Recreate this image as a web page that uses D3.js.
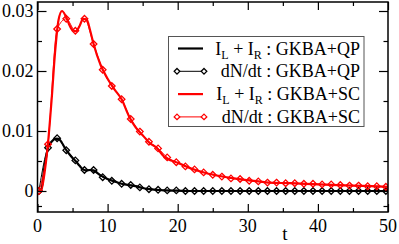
<!DOCTYPE html>
<html lang="en">
<head>
  <meta charset="UTF-8">
  <title>current vs dN/dt</title>
  <script src="https://cdn.jsdelivr.net/npm/d3@7"></script>
  <style>
    body { margin: 0; background: #fff; }
    text { font-family: "Liberation Serif", "DejaVu Serif", serif; }
  </style>
</head>
<body>
  <script>
    // line series (I_L + I_R)
    const tLine = [0, 0.5, 1, 1.5, 2, 2.5, 3, 3.5, 4, 4.5, 5, 5.5, 6, 6.5, 7, 7.5, 8, 9, 10, 11, 12, 13, 14, 15, 16, 17, 18, 20, 22, 24, 26, 28, 30, 33, 36, 40, 45, 50];
    const qpLine = [0, 0, 0.004, 0.0072, 0.0082, 0.0087, 0.0087, 0.0080, 0.0070, 0.0062, 0.0055, 0.0049, 0.0042, 0.0036, 0.0034, 0.0035, 0.0034, 0.0026, 0.0020, 0.0016, 0.0012, 0.0010, 0.0008, 0.0005, 0.0003, 0.0002, 0.0001, 0.00005, 0, 0, 0, 0, 0, 0, 0, 0, 0, 0];
    const scLine = [0, 0, 0.003, 0.008, 0.015, 0.023, 0.0285, 0.0300, 0.0292, 0.0278, 0.0268, 0.0266, 0.0275, 0.0287, 0.0286, 0.0268, 0.0245, 0.0210, 0.0187, 0.0169, 0.0153, 0.0126, 0.0106, 0.0093, 0.0080, 0.0072, 0.0058, 0.0047, 0.0037, 0.0030, 0.0025, 0.0021, 0.0018, 0.0014, 0.0013, 0.0011, 0.0009, 0.0007];

    // marker series (dN/dt)
    const tMark = [0.2, 1.5, 2.8, 4.1, 5.4, 6.7, 8.0, 9.3, 10.6, 12.0, 13.3, 14.6, 15.9, 17.2, 18.5, 19.8, 21.1, 22.4, 23.7, 25.0, 26.3, 27.6, 28.9, 30.2, 31.5, 32.8, 34.1, 35.4, 36.7, 38.0, 39.3, 40.6, 41.9, 43.2, 44.5, 45.8, 47.1, 48.4, 49.7];
    const qpMark = [0, 0.0072, 0.0088, 0.0068, 0.0051, 0.0035, 0.0035, 0.0023, 0.0017, 0.0012, 0.0010, 0.0006, 0.0003, 0.0002, 0.0001, 0.0001, 0, 0, 0, 0, 0, 0, 0, 0, 0, 0, 0, 0, 0, 0, 0, 0, 0, 0, 0, 0, 0, 0, 0];
    const scMark = [0, 0.0078, 0.0270, 0.0287, 0.0267, 0.0287, 0.0245, 0.0202, 0.0175, 0.0153, 0.0120, 0.0099, 0.0082, 0.0071, 0.0056, 0.0048, 0.0041, 0.0036, 0.0031, 0.0027, 0.0024, 0.0021, 0.0020, 0.0017, 0.0016, 0.0014, 0.0014, 0.0013, 0.0013, 0.0012, 0.0012, 0.0011, 0.0011, 0.0010, 0.0009, 0.0009, 0.0008, 0.0008, 0.0007];

    const xTicks = [0, 10, 20, 30, 40, 50];
    const yTicks = [0, 0.01, 0.02, 0.03];
    const legendLabels = [
      ["I", "L", " + I", "R", " : GKBA+QP"],
      ["dN/dt : GKBA+QP"],
      ["I", "L", " + I", "R", " : GKBA+SC"],
      ["dN/dt : GKBA+SC"]
    ];

    const w = 399, h = 244;
    const pLeft = 37.5, pRight = 388, pTop = 2, pBottom = 212;

    const x = d3.scaleLinear().domain([0, 50]).range([pLeft, pRight]);
    const y = d3.scaleLinear().domain([-0.0035, 0.0315]).range([pBottom, pTop]);

    const svg = d3.select("body").append("svg")
      .attr("width", w).attr("height", h);

    // clip for curves
    svg.append("clipPath").attr("id", "clip")
      .append("rect").attr("x", pLeft).attr("y", pTop)
      .attr("width", pRight - pLeft).attr("height", pBottom - pTop);

    const plot = svg.append("g").attr("clip-path", "url(#clip)");

    const line = d3.line().curve(d3.curveMonotoneX);
    const diamond = s => `M0,${-s}L${s},0L0,${s}L${-s},0Z`;

    function drawLine(ts, vs, color, width) {
      plot.append("path")
        .attr("d", line(ts.map((t, i) => [x(t), y(vs[i])])))
        .attr("fill", "none").attr("stroke", color)
        .attr("stroke-width", width).attr("stroke-linejoin", "round");
    }
    function drawMarks(ts, vs, color) {
      drawLine(ts, vs, color, 1);
      plot.selectAll(null).data(ts).enter().append("path")
        .attr("transform", (t, i) => `translate(${x(t)},${y(vs[i])})`)
        .attr("d", diamond(3.3))
        .attr("fill", "none").attr("stroke", color).attr("stroke-width", 1.3);
    }

    drawLine(tLine, qpLine, "#000", 2.2);
    drawMarks(tMark, qpMark, "#000");
    drawLine(tLine, scLine, "#ff0000", 2.2);
    drawMarks(tMark, scMark, "#ff0000");

    // frame
    svg.append("rect").attr("x", pLeft).attr("y", pTop)
      .attr("width", pRight - pLeft).attr("height", pBottom - pTop)
      .attr("fill", "none").attr("stroke", "#000").attr("stroke-width", 1.5);

    // inward ticks on all four sides
    const xMinor = [5, 15, 25, 35, 45];
    const yMinor = [-0.0025, 0.005, 0.015, 0.025];
    const axes = [
      [d3.axisTop(x).tickValues(xTicks).tickSize(8), `translate(0,${pBottom})`],
      [d3.axisTop(x).tickValues(xMinor).tickSize(4), `translate(0,${pBottom})`],
      [d3.axisBottom(x).tickValues(xTicks).tickSize(8), `translate(0,${pTop})`],
      [d3.axisBottom(x).tickValues(xMinor).tickSize(4), `translate(0,${pTop})`],
      [d3.axisRight(y).tickValues(yTicks).tickSize(9), `translate(${pLeft},0)`],
      [d3.axisRight(y).tickValues(yMinor).tickSize(4.5), `translate(${pLeft},0)`],
      [d3.axisLeft(y).tickValues(yTicks).tickSize(9), `translate(${pRight},0)`],
      [d3.axisLeft(y).tickValues(yMinor).tickSize(4.5), `translate(${pRight},0)`]
    ];
    axes.forEach(([ax, tr]) => {
      const g = svg.append("g").attr("transform", tr).call(ax.tickFormat(""));
      g.select(".domain").remove();
      g.selectAll("line").attr("stroke", "#000").attr("stroke-width", 1.2);
    });

    // tick labels
    svg.append("g").selectAll("text").data(xTicks).enter().append("text")
      .attr("x", d => x(d)).attr("y", 231.5)
      .attr("text-anchor", "middle").attr("font-size", 18)
      .text(d => d);
    svg.append("g").selectAll("text").data(yTicks).enter().append("text")
      .attr("x", 33.5).attr("y", d => y(d)).attr("dy", "0.33em")
      .attr("text-anchor", "end").attr("font-size", 18)
      .text(d => d === 0 ? "0" : d3.format(".2f")(d));

    svg.append("text").attr("x", 285).attr("y", 240)
      .attr("text-anchor", "middle").attr("font-size", 19).text("t");

    // legend
    const lg = svg.append("g");
    lg.append("rect").attr("x", 168.5).attr("y", 36.5).attr("width", 195.5).attr("height", 90)
      .attr("fill", "#fff").attr("stroke", "#555").attr("stroke-width", 1);
    const colors = ["#000", "#000", "#ff0000", "#ff0000"];
    legendLabels.forEach((parts, i) => {
      const ry = 48.5 + i * 22.8;
      const c = colors[i];
      if (i % 2 === 0) {
        lg.append("line").attr("x1", 178).attr("x2", 203).attr("y1", ry).attr("y2", ry)
          .attr("stroke", c).attr("stroke-width", 2.2);
      } else {
        lg.append("line").attr("x1", 177).attr("x2", 204).attr("y1", ry).attr("y2", ry)
          .attr("stroke", c).attr("stroke-width", 1);
        [177, 204].forEach(px => lg.append("path")
          .attr("transform", `translate(${px},${ry})`).attr("d", diamond(2.8))
          .attr("fill", "#fff").attr("stroke", c).attr("stroke-width", 1.3));
      }
      const t = lg.append("text").attr("x", 360).attr("y", ry + 6)
        .attr("text-anchor", "end").attr("font-size", 18);
      parts.forEach((p, j) => {
        const sub = parts.length > 1 && (j === 1 || j === 3);
        t.append("tspan").attr("font-size", sub ? 12 : 18)
          .attr("dy", sub ? 4 : (j > 0 ? -4 : 0)).text(p);
      });
    });
  </script>
</body>
</html>
